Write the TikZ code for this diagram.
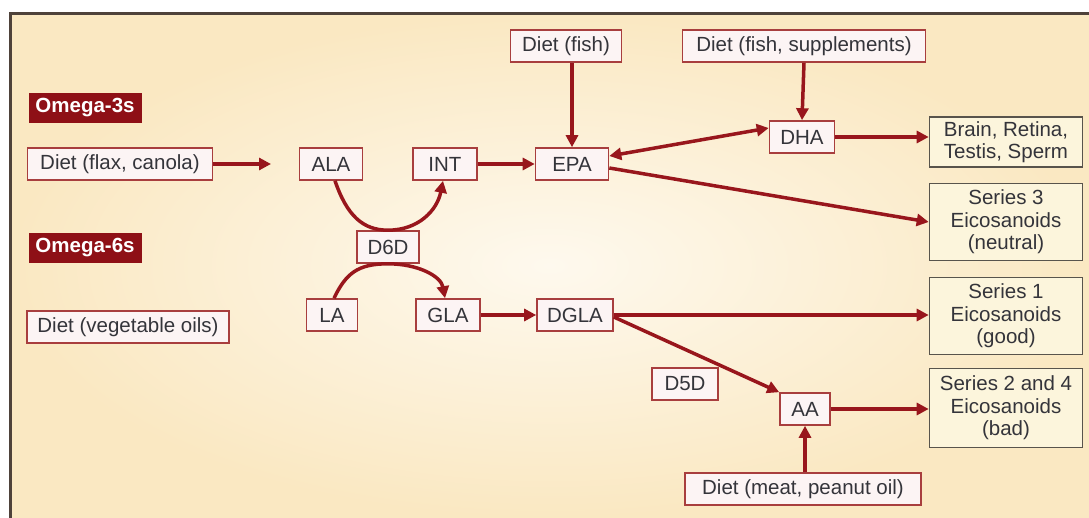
\documentclass[tikz,border=0pt]{standalone}
\usepackage{fontspec}
\setmainfont{Liberation Sans}
\usetikzlibrary{arrows.meta}
\definecolor{dred}{RGB}{142,16,22}
\definecolor{ared}{RGB}{152,22,28}
\definecolor{bred}{RGB}{168,62,62}
\definecolor{bfill}{RGB}{252,244,244}
\definecolor{cfill}{RGB}{252,245,220}
\definecolor{cdraw}{RGB}{88,84,76}
\definecolor{framec}{RGB}{78,66,58}
\definecolor{bgout}{RGB}{250,232,194}
\definecolor{bgin}{RGB}{254,249,238}
\definecolor{txt}{RGB}{52,52,58}
\tikzset{
  pbox/.style={draw=bred, line width=1.6pt, fill=bfill, text=txt, inner sep=0pt,
    minimum height=32pt, font=\fontsize{20.5}{23}\selectfont},
  rbox/.style={draw=cdraw, line width=1.6pt, fill=cfill, text=txt, inner sep=0pt,
    minimum width=153pt, align=center, font=\fontsize{20.5}{22.5}\selectfont},
  lbl/.style={fill=dred, text=white, inner sep=0pt, minimum width=113pt, minimum height=30pt,
    font=\fontsize{20.5}{23}\selectfont\bfseries},
  arr/.style={draw=ared, line width=3.5pt, -{Triangle[length=12pt,width=12pt]}},
  darr/.style={draw=ared, line width=3.5pt, {Triangle[length=12pt,width=12pt]}-{Triangle[length=12pt,width=12pt]}}
}
\begin{document}
\begin{tikzpicture}[x=1pt,y=-1pt]
\useasboundingbox (0,0) rectangle (1089,518);
\fill[white] (0,0) rectangle (1089,518);
\shade[inner color=bgin, outer color=bgout] (9,13) rectangle (1089,518);
\draw[framec, line width=3pt] (10,518) -- (10,14) -- (1089,14);

% labels
\node[lbl] (o3) at (85,108) {Omega-3s};
\node[lbl] (o6) at (85,248) {Omega-6s};

% boxes
\node[pbox, minimum width=185pt] (flax) at (120,164) {Diet (flax, canola)};
\node[pbox, minimum width=202pt] (veg) at (128,327) {Diet (vegetable oils)};
\node[pbox, minimum width=63pt] (ALA) at (331,164) {ALA};
\node[pbox, minimum width=64pt] (INT) at (445,164) {INT};
\node[pbox, minimum width=73pt] (EPA) at (572,164) {EPA};
\node[pbox, minimum width=62pt] (D6D) at (388,247) {D6D};
\node[pbox, minimum width=51pt] (LA) at (332,315) {LA};
\node[pbox, minimum width=64pt] (GLA) at (448,315) {GLA};
\node[pbox, minimum width=76pt] (DGLA) at (575,315) {DGLA};
\node[pbox, minimum width=111pt] (fish) at (566,46) {Diet (fish)};
\node[pbox, minimum width=243pt] (fishsup) at (804,46) {Diet (fish, supplements)};
\node[pbox, minimum width=65pt] (DHA) at (802,137) {DHA};
\node[pbox, minimum width=66pt] (D5D) at (685,384) {D5D};
\node[pbox, minimum width=50pt] (AA) at (805,409) {AA};
\node[pbox, minimum width=236pt] (meat) at (803,489) {Diet (meat, peanut oil)};

\node[rbox, minimum height=50pt] (brain) at (1006,142) {Brain, Retina,\\Testis, Sperm};
\node[rbox, minimum height=77pt] (s3) at (1006,222) {Series 3\\Eicosanoids\\(neutral)};
\node[rbox, minimum height=77pt] (s1) at (1006,316) {Series 1\\Eicosanoids\\(good)};
\node[rbox, minimum height=79pt] (s24) at (1006,408) {Series 2 and 4\\Eicosanoids\\(bad)};

\coordinate (flaxend) at (271,164);

% connectors
\draw[arr] (flax) -- (flaxend);
\draw[arr] ([xshift=4pt]ALA.south) .. controls +(12,35) and +(-25,0) .. (D6D.north)
  .. controls +(30,0) and +(-6,30) .. ([xshift=-2pt]INT.south);
\draw[arr] ([xshift=2pt]LA.north) .. controls +(12,-25) and +(-30,0) .. (D6D.south)
  .. controls +(30,0) and +(-4,-22) .. ([xshift=-3pt]GLA.north);
\draw[arr] (INT) -- (EPA);
\draw[arr] (EPA.north |- fish.south) -- (EPA.north);
\draw[arr] (fishsup.south) -- (DHA.north);
\draw[darr] ([yshift=8pt]EPA.east) -- ([yshift=9pt]DHA.west);
\draw[arr] ([yshift=-4pt]EPA.east) -- (s3.west);
\draw[arr] (DHA) -- (DHA -| brain.west);
\draw[arr] (GLA) -- (DGLA);
\draw[arr] (DGLA.east) -- (DGLA.east -| s1.west);
\draw[arr] ([yshift=-2pt]DGLA.east) -- (AA.north west);
\draw[arr] (AA) -- (AA -| s24.west);
\draw[arr] (AA.south |- meat.north) -- (AA.south);
\end{tikzpicture}
\end{document}
